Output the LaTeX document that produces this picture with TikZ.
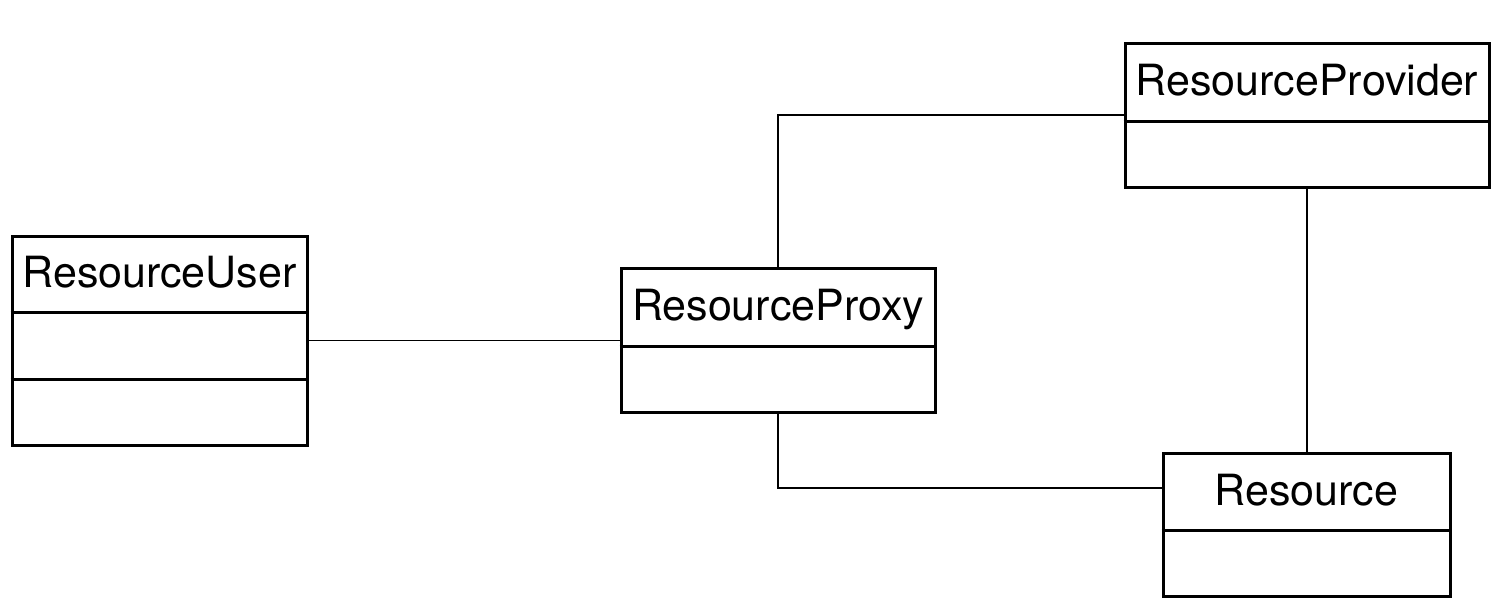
\documentclass[tikz,border=0pt]{standalone}
\usepackage{fontspec}
\setmainfont{TeX Gyre Heros}
\usetikzlibrary{calc}
\tikzset{
  umlbox/.style={draw=black, line width=3pt, fill=white, inner sep=0pt, line join=miter},
  umltext/.style={inner sep=0pt, font=\fontsize{43}{50}\selectfont, anchor=base},
  link/.style={draw=black, line width=1.8pt},
  divider/.style={draw=black, line width=3pt}
}
\begin{document}
\begin{tikzpicture}[x=1pt,y=-1pt]
\useasboundingbox (0,0) rectangle (1504,603);
% boxes
\node[umlbox, minimum width=295pt, minimum height=209pt] (user) at (159.5,340.5) {};
\node[umlbox, minimum width=314pt, minimum height=144pt] (proxy) at (778,340) {};
\node[umlbox, minimum width=364pt, minimum height=144pt] (provider) at (1307,115) {};
\node[umlbox, minimum width=287pt, minimum height=143pt] (resource) at (1306.5,524.5) {};
% dividers
\draw[divider] (user.west |- 0,312) -- (user.east |- 0,312);
\draw[divider] (user.west |- 0,379) -- (user.east |- 0,379);
\draw[divider] (proxy.west |- 0,346) -- (proxy.east |- 0,346);
\draw[divider] (provider.west |- 0,121) -- (provider.east |- 0,121);
\draw[divider] (resource.west |- 0,530) -- (resource.east |- 0,530);
% labels
\node[umltext] (userlbl) at (159.5,287) {ResourceUser};
\node[umltext] (proxylbl) at (778,320) {ResourceProxy};
\node[umltext] (providerlbl) at (1307,95) {ResourceProvider};
\node[umltext] (resourcelbl) at (1306.5,505) {Resource};
% connectors
\draw[link] (user.east) -- (user.east -| proxy.west);
\draw[link] (proxy.north) |- (provider.west);
\draw[link] (provider.south) -- (provider.south |- resource.north);
\draw[link] (proxy.south) |- ([yshift=-36.5pt]resource.north west);
\end{tikzpicture}
\end{document}
